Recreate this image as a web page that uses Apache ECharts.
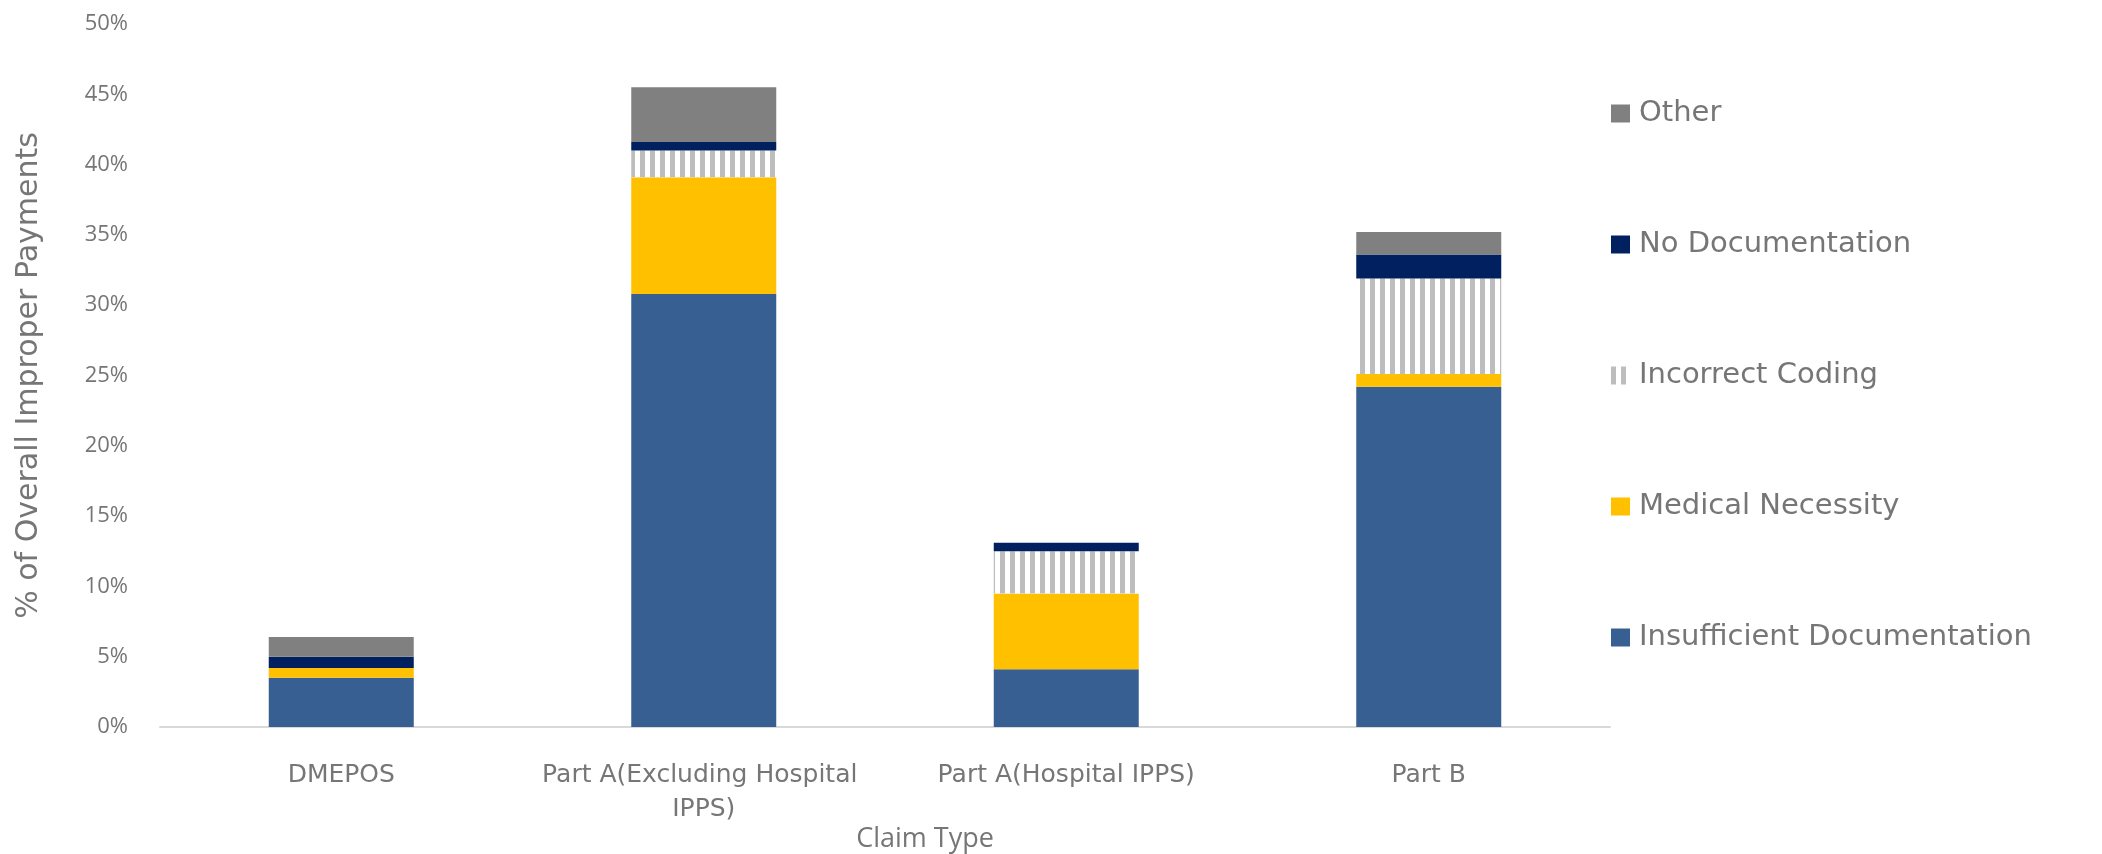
<!DOCTYPE html>
<html>
<head>
<meta charset="utf-8">
<script src="https://cdn.jsdelivr.net/npm/echarts@6/dist/echarts.min.js"></script>
<style>
  html, body { margin: 0; padding: 0; background: #fff; }
  #chart { width: 2102px; height: 854px; }
</style>
</head>
<body>
<div id="chart"></div>
<script>
// claim types on the x axis
let categories = ['DMEPOS', 'Part A(Excluding Hospital IPPS)', 'Part A(Hospital IPPS)', 'Part B'];

// % of overall improper payments, one value per claim type
let insufficientDoc = [3.5, 30.8, 4.1, 24.2];
let medicalNecessity = [0.7, 8.3, 5.4, 0.9];
let incorrectCoding = [0, 1.9, 3.0, 6.8];
let noDoc = [0.8, 0.6, 0.6, 1.7];
let other = [1.4, 3.9, 0, 1.6];

let legendOrder = ['Other', 'No Documentation', 'Incorrect Coding', 'Medical Necessity', 'Insufficient Documentation'];

let textColor = '#767676';

let bar = (name, data, color, extra) => {
	let s = {
		name: name,
		type: 'bar',
		stack: 'total',
		barWidth: '40%',
		data: data,
		itemStyle: { color: color },
		emphasis: { disabled: true }
	};
	if (extra) {
		s.itemStyle = Object.assign(s.itemStyle, extra);
	}
	return s;
};

let chart = echarts.init(document.getElementById('chart'), null, { renderer: 'canvas' });

chart.setOption({
	animation: false,
	backgroundColor: '#ffffff',
	textStyle: { fontFamily: 'Open Sans' },
	grid: { left: 160, right: 492, top: 24, bottom: 127, outerBoundsMode: 'none', containLabel: false },
	legend: {
		orient: 'vertical',
		icon: 'rect',
		left: 1606,
		top: 94,
		itemWidth: 19,
		itemHeight: 18,
		itemGap: 102,
		data: legendOrder,
		textStyle: { color: textColor, fontSize: 29, lineHeight: 27, fontFamily: 'DejaVu Sans', padding: [0, 0, 0, 4] },
		selectedMode: false
	},
	xAxis: {
		type: 'category',
		data: categories,
		name: 'Claim Type',
		nameLocation: 'middle',
		nameGap: 99,
		nameMoveOverlap: false,
		nameTextStyle: { color: textColor, fontSize: 27, padding: [0, 0, 0, 80] },
		axisLine: { lineStyle: { color: '#d9d9d9', width: 2 } },
		axisTick: { show: false },
		axisLabel: {
			color: textColor,
			fontSize: 25,
			fontFamily: 'DejaVu Sans',
			lineHeight: 34,
			margin: 31,
			interval: 0,
			width: 360,
			overflow: 'break'
		}
	},
	yAxis: {
		type: 'value',
		min: 0,
		max: 50,
		interval: 5,
		name: '% of Overall Improper Payments',
		nameLocation: 'middle',
		nameGap: 116,
		nameMoveOverlap: false,
		nameTextStyle: { color: textColor, fontSize: 30, fontFamily: 'DejaVu Sans' },
		axisLine: { show: false },
		axisTick: { show: false },
		splitLine: { show: false },
		axisLabel: {
			color: textColor,
			fontSize: 22,
			margin: 32,
			formatter: '{value}%'
		}
	},
	series: [
		bar('Insufficient Documentation', insufficientDoc, '#375f91'),
		bar('Medical Necessity', medicalNecessity, '#ffc000'),
		bar('Incorrect Coding', incorrectCoding, '#ffffff', {
			decal: {
				symbol: 'rect',
				symbolSize: 1,
				color: '#bdbdbd',
				dashArrayX: [5, 5],
				dashArrayY: [1, 0]
			}
		}),
		bar('No Documentation', noDoc, '#002060'),
		bar('Other', other, '#808080')
	]
});
</script>
</body>
</html>
